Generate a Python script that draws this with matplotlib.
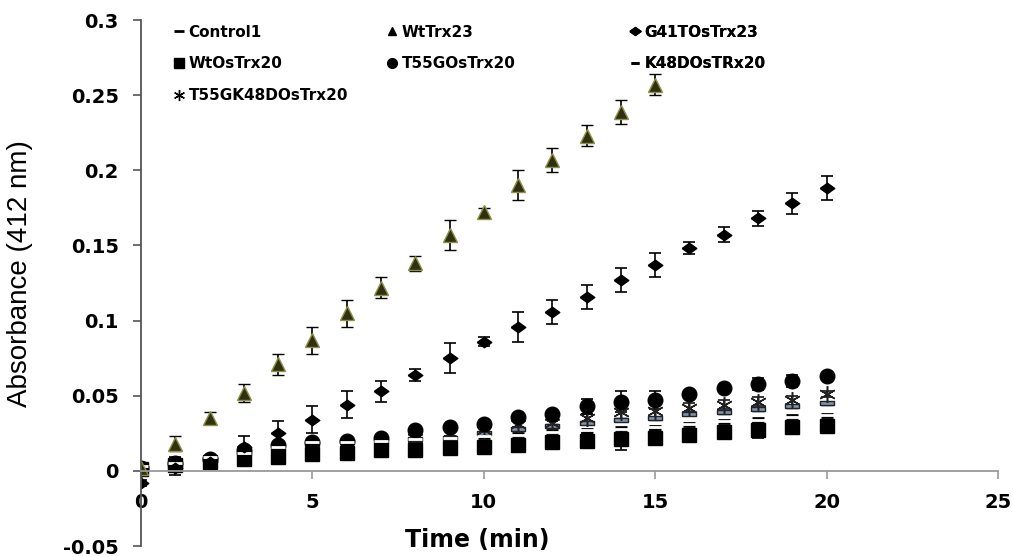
import matplotlib
matplotlib.use('Agg')
import matplotlib.pyplot as plt
from matplotlib.lines import Line2D
from matplotlib.ticker import FuncFormatter
import numpy as np

# time points (min)
time = list(range(21))
time_wt23 = list(range(16))

control1 = [0.003, 0.005, 0.009, 0.012, 0.016, 0.019, 0.019, 0.020, 0.021, 0.022, 0.023,
            0.024, 0.026, 0.027, 0.028, 0.029, 0.031, 0.033, 0.034, 0.036, 0.037]
control1_err = [0.001] * 21

wttrx23 = [0.002, 0.018, 0.035, 0.052, 0.071, 0.087, 0.105, 0.122, 0.138, 0.157, 0.172,
           0.190, 0.207, 0.223, 0.239, 0.257]
wttrx23_err = [0.001, 0.005, 0.004, 0.006, 0.007, 0.009, 0.009, 0.007, 0.005, 0.010, 0.003,
               0.010, 0.008, 0.007, 0.008, 0.007]

g41t = [-0.008, 0.002, 0.006, 0.016, 0.025, 0.034, 0.044, 0.053, 0.064, 0.075, 0.086,
        0.096, 0.106, 0.116, 0.127, 0.137, 0.148, 0.157, 0.168, 0.178, 0.188]
g41t_err = [0.002, 0.005, 0.002, 0.007, 0.008, 0.009, 0.009, 0.007, 0.004, 0.010, 0.003,
            0.010, 0.008, 0.008, 0.008, 0.008, 0.004, 0.005, 0.005, 0.007, 0.008]

wtos20 = [0.001, 0.004, 0.006, 0.008, 0.009, 0.011, 0.012, 0.014, 0.014, 0.015, 0.016,
          0.017, 0.019, 0.020, 0.021, 0.022, 0.024, 0.026, 0.027, 0.029, 0.030]
wtos20_err = [0.002, 0.005, 0.002, 0.002, 0.002, 0.003, 0.002, 0.002, 0.002, 0.002, 0.002,
              0.002, 0.002, 0.005, 0.007, 0.005, 0.002, 0.002, 0.005, 0.004, 0.002]

t55g = [0.002, 0.005, 0.008, 0.014, 0.017, 0.019, 0.020, 0.022, 0.027, 0.029, 0.031,
        0.036, 0.038, 0.043, 0.046, 0.047, 0.051, 0.055, 0.058, 0.060, 0.063]
t55g_err = [0.001, 0.002, 0.002, 0.002, 0.002, 0.002, 0.002, 0.002, 0.002, 0.002, 0.002,
            0.002, 0.002, 0.005, 0.007, 0.006, 0.002, 0.002, 0.004, 0.004, 0.002]

k48d = [0.002, 0.004, 0.008, 0.012, 0.015, 0.018, 0.019, 0.020, 0.021, 0.022, 0.025,
        0.028, 0.030, 0.032, 0.034, 0.035, 0.038, 0.039, 0.041, 0.043, 0.045]
k48d_err = [0.001] * 21

t55gk48d = [0.001, 0.004, 0.007, 0.011, 0.013, 0.016, 0.018, 0.020, 0.022, 0.025, 0.027,
            0.031, 0.032, 0.035, 0.039, 0.040, 0.042, 0.044, 0.046, 0.047, 0.051]
t55gk48d_err = [0.001, 0.001, 0.001, 0.002, 0.002, 0.002, 0.002, 0.002, 0.002, 0.002, 0.002,
                0.002, 0.002, 0.003, 0.005, 0.005, 0.003, 0.003, 0.003, 0.003, 0.002]

xticks = [0, 5, 10, 15, 20, 25]
yticks = [-0.05, 0, 0.05, 0.1, 0.15, 0.2, 0.25, 0.3]

diamond = [(-1, 0), (0, 0.72), (1, 0), (0, -0.72), (-1, 0)]
bar_mark = [(-1, -0.3), (1, -0.3), (1, 0.3), (-1, 0.3), (-1, -0.3)]
star = (6, 2, 0)

fig = plt.figure(figsize=(10.14, 5.57), dpi=100)
ax = fig.add_axes([141 / 1014, 1 - 546 / 557, (998 - 141) / 1014, (546 - 20) / 557])

eb = dict(ecolor='black', elinewidth=1.2, capsize=4, capthick=1.2, linestyle='none')

ax.errorbar(time, k48d, yerr=k48d_err, marker=bar_mark, markersize=10,
            markerfacecolor='#7f93b0', markeredgecolor='#222222', markeredgewidth=1, **eb)
ax.errorbar(time, t55gk48d, yerr=t55gk48d_err, marker=star, markersize=12,
            color='#222222', markeredgewidth=1.1, **eb)
ax.errorbar(time, t55g, yerr=t55g_err, marker='o', markersize=10.5,
            color='black', **eb)
ax.errorbar(time, wtos20, yerr=wtos20_err, marker='s', markersize=10.5,
            color='black', **eb)
ax.errorbar(time, control1, yerr=control1_err, marker='_', markersize=10,
            color='white', markeredgewidth=2, **eb)
ax.errorbar(time, g41t, yerr=g41t_err, marker=diamond, markersize=10.5,
            color='black', **eb)
ax.errorbar(time_wt23, wttrx23, yerr=wttrx23_err, marker='^', markersize=10.5,
            markerfacecolor='#2f3010', markeredgecolor='#8f9048', markeredgewidth=1, **eb)

ax.set_xlim(0, 25)
ax.set_ylim(-0.05, 0.3)
ax.set_xticks(xticks)
ax.set_yticks(yticks)
ax.yaxis.set_major_formatter(FuncFormatter(lambda v, p: '%g' % round(v, 3)))

ax.spines['top'].set_visible(False)
ax.spines['right'].set_visible(False)
ax.spines['bottom'].set_position(('data', 0))
ax.spines['bottom'].set_color('#999999')
ax.spines['bottom'].set_linewidth(1.3)
ax.spines['left'].set_color('#555555')
ax.spines['left'].set_linewidth(1.3)
ax.tick_params(axis='x', direction='out', length=6, width=1.2, color='#999999',
               pad=10, labelsize=14)
ax.tick_params(axis='y', direction='out', length=6, width=1.2, color='#555555',
               pad=10, labelsize=14)
for lab in ax.get_xticklabels() + ax.get_yticklabels():
    lab.set_fontweight('bold')
    lab.set_family('DejaVu Sans')

fig.text(477 / 1014, 1 - 540 / 557, 'Time (min)', ha='center', va='center',
         fontsize=17, fontweight='bold', family='DejaVu Sans')
fig.text(20 / 1014, 1 - 274 / 557, 'Absorbance (412 nm)', ha='center', va='center',
         rotation=90, fontsize=20, family='Liberation Sans')

# legend, three columns placed separately
def handle(marker, ms=6, mew=1):
    return Line2D([], [], linestyle='none', marker=marker, markersize=ms,
                  color='black', markeredgewidth=mew)

columns = [
    ([handle('_', 7, 2), handle('s', 7), handle(star, 8)],
     ['Control1', 'WtOsTrx20', 'T55GK48DOsTrx20'], 167),
    ([handle('^', 6), handle('o', 7)],
     ['WtTrx23', 'T55GOsTrx20'], 380),
    ([handle(diamond, 8), handle('_', 6, 2)],
     ['G41TOsTrx23', 'K48DOsTRx20'], 623),
]
for hs, labels, x0 in columns:
    leg = ax.legend(hs, labels, loc='upper left', bbox_to_anchor=(x0 / 1014, 1 - 17 / 557),
                    bbox_transform=fig.transFigure, frameon=False, borderpad=0,
                    handlelength=0.6, handletextpad=0.3, labelspacing=1.1,
                    prop={'family': 'DejaVu Sans', 'weight': 'bold', 'size': 11})
    ax.add_artist(leg)

fig.savefig('out.png', dpi=100)
